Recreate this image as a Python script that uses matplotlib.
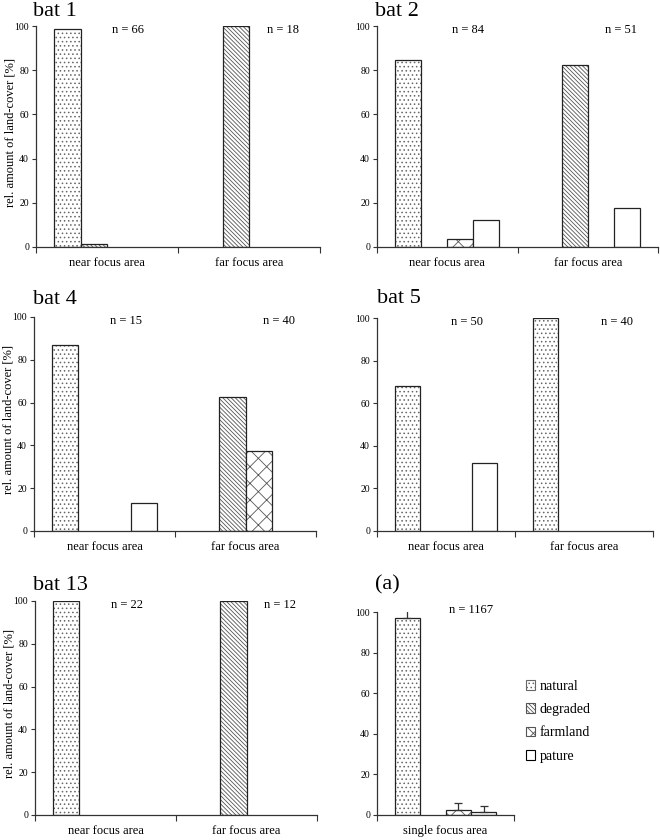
import matplotlib
matplotlib.use("Agg")
import matplotlib.pyplot as plt
from matplotlib.patches import Patch
import numpy as np

plt.rcParams['font.family'] = ['Liberation Serif', 'DejaVu Serif']
plt.rcParams['hatch.linewidth'] = 0.6

categories = ['near focus area', 'far focus area']
covers = ['natural', 'degraded', 'farmland', 'pature']

bat1_near = [98.5, 1.5, 0, 0]
bat1_far = [0, 100, 0, 0]
bat2_near = [84.5, 0, 3.5, 12]
bat2_far = [0, 82.3, 0, 17.7]
bat4_near = [86.7, 0, 0, 13.3]
bat4_far = [0, 62.5, 37.5, 0]
bat5_near = [68, 0, 0, 32]
bat5_far = [100, 0, 0, 0]
bat13_near = [100, 0, 0, 0]
bat13_far = [0, 100, 0, 0]
single_vals = [97.2, 0, 2.4, 1.3]
single_err = [4.4, 0, 3.6, 3.1]

n_labels = {
    'bat 1': ['n = 66', 'n = 18'],
    'bat 2': ['n = 84', 'n = 51'],
    'bat 4': ['n = 15', 'n = 40'],
    'bat 5': ['n = 50', 'n = 40'],
    'bat 13': ['n = 22', 'n = 12'],
}
single_n = 'n = 1167'
single_cat = 'single focus area'

hatches = ['....', '\\\\\\\\\\\\\\\\', 'xx', '']
hatch_cols = ['#666666', '#555555', '#555555', 'black']

fig = plt.figure(figsize=(6.6, 8.4), dpi=100)

W = 660.0
H = 840.0
def rect(l, r, t, b):
    return [l / W, 1 - b / H, (r - l) / W, (b - t) / H]

panels = [
    ('bat 1', bat1_near, bat1_far, rect(36, 320, 26, 247), (33, 12), True),
    ('bat 2', bat2_near, bat2_far, rect(377, 658, 26, 247), (375, 12), False),
    ('bat 4', bat4_near, bat4_far, rect(34, 316, 317, 531), (33, 300), True),
    ('bat 5', bat5_near, bat5_far, rect(377, 653, 318, 531), (377, 298), False),
    ('bat 13', bat13_near, bat13_far, rect(35, 317, 601, 815), (33, 585), True),
]

bw = 0.185

def draw_bar(ax, x, h, i, err=None):
    ax.bar(x, h, bw, color='white', hatch=hatches[i], edgecolor=hatch_cols[i], linewidth=0)
    ax.bar(x, h, bw, fill=False, edgecolor='#222222', linewidth=0.9)
    if err is not None and err > 0:
        ax.errorbar(x, h, yerr=[[0], [err]], fmt='none', ecolor='#333333', elinewidth=0.9, capsize=3, capthick=0.9)

def style_axes(ax, ncat):
    ax.set_ylim(0, 100)
    ax.set_xlim(-0.5, ncat - 0.5)
    for s in ['top', 'right']:
        ax.spines[s].set_visible(False)
    for s in ['left', 'bottom']:
        ax.spines[s].set_color('#333333')
        ax.spines[s].set_linewidth(0.9)
    ax.set_yticks([0, 20, 40, 60, 80, 100])
    ax.tick_params(axis='y', labelsize=7, length=3, width=0.8, pad=2, color='#333333')
    ax.set_xticks(np.arange(ncat + 1) - 0.5)
    ax.set_xticklabels([''] * (ncat + 1))
    ax.tick_params(axis='x', which='major', length=4, width=0.8, color='#333333')

for title, near, far, r, tpos, ylab in panels:
    ax = fig.add_axes(r)
    for c, vals in enumerate([near, far]):
        for i, v in enumerate(vals):
            if v > 0:
                draw_bar(ax, c + (i - 1.5) * bw, v, i)
    style_axes(ax, 2)
    ax.set_xticks([0, 1], minor=True)
    ax.set_xticklabels(categories, minor=True, fontsize=9)
    ax.tick_params(axis='x', which='minor', length=0, pad=7)
    nl = n_labels[title]
    ax.text(0.15, 98, nl[0], ha='center', va='center', fontsize=9)
    ax.text(1.24, 98, nl[1], ha='center', va='center', fontsize=9)
    if ylab:
        ax.set_ylabel('rel. amount of land-cover [%]', fontsize=9)
        ax.yaxis.set_label_coords(-0.068, 0.52)
    fig.text(tpos[0] / W, 1 - tpos[1] / H, title, ha='left', va='center', fontsize=16)

# single focus area panel
ax = fig.add_axes(rect(377, 514, 612, 815))
for i, v in enumerate(single_vals):
    if v > 0:
        draw_bar(ax, (i - 1.5) * bw, v, i, single_err[i])
style_axes(ax, 1)
ax.set_xticks([0], minor=True)
ax.set_xticklabels([single_cat], minor=True, fontsize=9)
ax.tick_params(axis='x', which='minor', length=0, pad=7)
ax.text(0.19, 101, single_n, ha='center', va='center', fontsize=9, clip_on=False)
fig.text(375 / W, 1 - 585 / H, '(a)', ha='left', va='center', fontsize=16)

handles = [Patch(facecolor='white', edgecolor=hatch_cols[i], hatch=hatches[i], linewidth=0.8) for i in range(4)]
fig.legend(handles, covers, loc='upper left', bbox_to_anchor=(520 / W, 1 - 674 / H),
           frameon=False, fontsize=10, handlelength=0.7, handleheight=0.7,
           handletextpad=0.3, labelspacing=0.75, borderaxespad=0)

fig.savefig('out.png', dpi=100)
